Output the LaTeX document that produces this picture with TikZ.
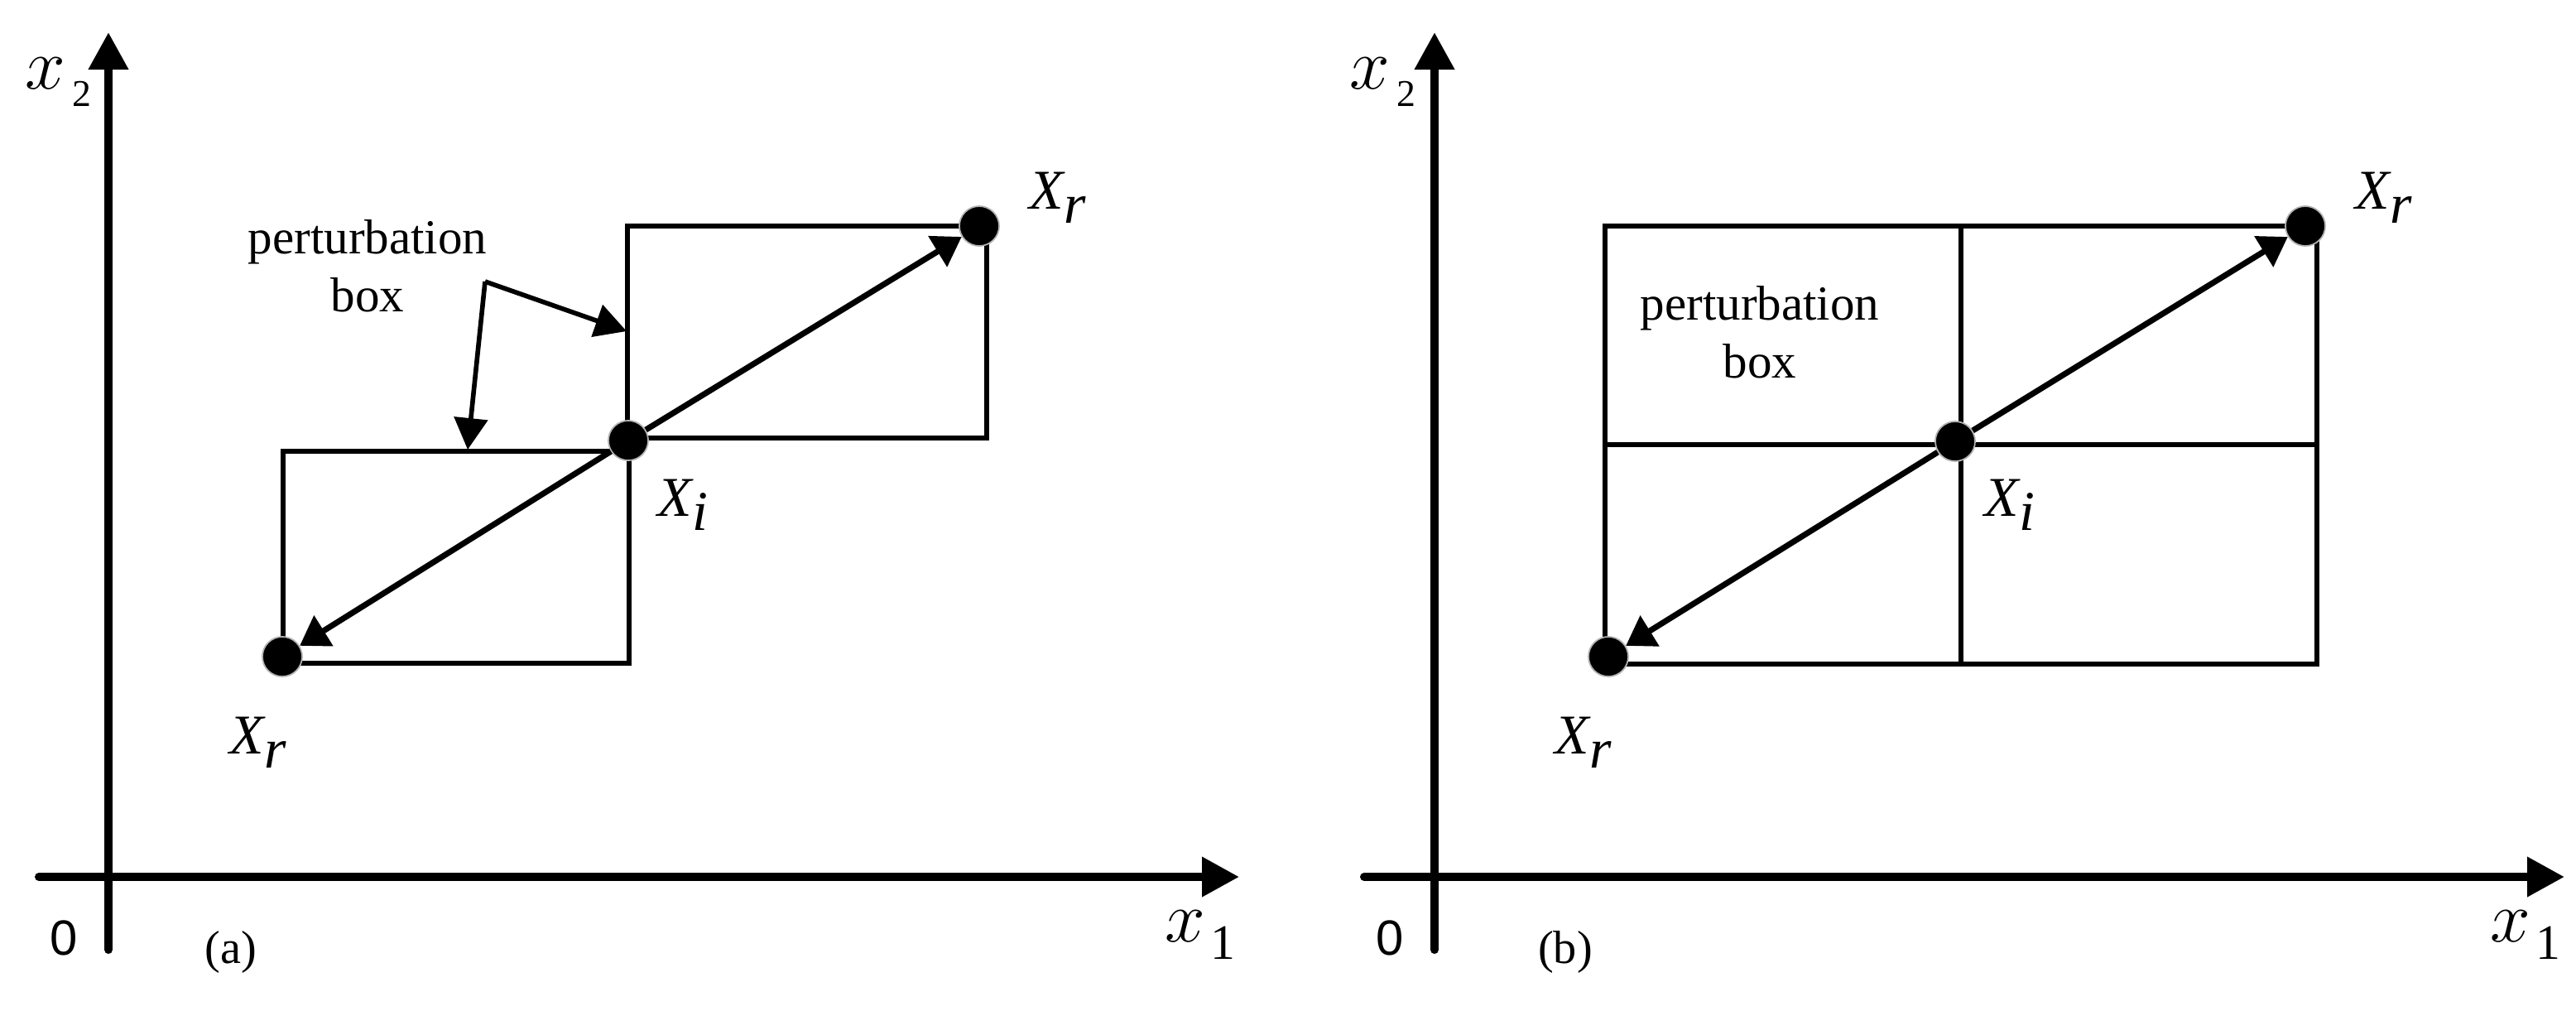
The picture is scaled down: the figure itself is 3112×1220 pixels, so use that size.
\documentclass[tikz,border=0pt]{standalone}
\usepackage{fontspec}
\setmainfont{Liberation Serif}[ItalicFont={Liberation Serif Italic}, BoldFont={Liberation Serif Bold}]
\setsansfont{Liberation Sans}
\newfontfamily\itserif{Liberation Serif Italic}
\usetikzlibrary{arrows.meta}
\newcommand{\Xsub}[1]{{\itserif X}\raisebox{-5pt}{\itserif #1}}

\begin{document}
\begin{tikzpicture}[
    x=0.01cm, y=-0.01cm,
    axis/.style={-{Triangle[length=12.8pt, width=13.1pt]}, line width=2.85pt, line cap=round},
    pbox/.style={line width=1.5pt},
    vec/.style={-{Triangle[length=9.7pt, width=12pt]}, line width=2pt},
    pointer/.style={-{Triangle[length=10.8pt, width=11.4pt]}, line width=1.6pt},
    dot/.style={circle, fill=black, draw=black!30, line width=0.5pt, minimum size=0.48cm, inner sep=0pt},
    lab/.style={font=\fontsize{19.3}{22}\selectfont, inner sep=0pt, anchor=base west},
    axlab/.style={font=\fontsize{24}{26}\selectfont, inner sep=0pt, anchor=base west},
    word/.style={font=\fontsize{16.8}{19.9}\selectfont, align=center, inner sep=0pt, anchor=north}
]
\useasboundingbox (0,0) rectangle (3112,1220);

% (a) axes
\draw[axis] (131,1147) -- (131,39);
\draw[axis] (47,1059) -- (1497,1059);
\node[axlab] (ya) at (30,107) {$x$\hspace{2.3pt}\raisebox{-6pt}{\fontsize{13}{13}\selectfont 2}};
\node[axlab] (xa) at (1407,1137) {$x$\hspace{1.6pt}\raisebox{-6pt}{\fontsize{17}{17}\selectfont 1}};
\node[font=\sffamily\fontsize{17}{17}\selectfont, inner sep=0pt, anchor=base] (oa) at (77,1153) {0};
\node[font=\fontsize{16}{18}\selectfont, inner sep=0pt, anchor=base] (capa) at (279,1163) {(a)};

% (a) perturbation boxes
\draw[pbox] (758,273) rectangle (1192,529);
\draw[pbox] (342,545) rectangle (760,801);

\node[dot] (xia) at (759,532) {};
\node[dot] (xra1) at (1183,273) {};
\node[dot] (xra2) at (341,793) {};
\draw[vec] (xia) -- (xra1);
\draw[vec] (xia) -- (xra2);

\node[lab] (lxia) at (794,623) {\Xsub{i}};
\node[lab] (lxra1) at (1243,252) {\Xsub{r}};
\node[lab] (lxra2) at (277,910) {\Xsub{r}};

\node[word] (pba) at (444,265) {perturbation\\box};
\coordinate (pa) at (586,340);
\coordinate (pu) at (757,400);
\coordinate (pl) at (565,543);
\draw[pointer] (pa) -- (pu);
\draw[pointer] (pa) -- (pl);

% (b) axes
\draw[axis] (1733,1147) -- (1733,39);
\draw[axis] (1648,1059) -- (3098,1059);
\node[axlab] (yb) at (1630,107) {$x$\hspace{2.3pt}\raisebox{-6pt}{\fontsize{13}{13}\selectfont 2}};
\node[axlab] (xb) at (3008,1137) {$x$\hspace{1.6pt}\raisebox{-6pt}{\fontsize{17}{17}\selectfont 1}};
\node[font=\sffamily\fontsize{17}{17}\selectfont, inner sep=0pt, anchor=base] (ob) at (1679,1153) {0};
\node[font=\fontsize{16}{18}\selectfont, inner sep=0pt, anchor=base] (capb) at (1891,1163) {(b)};

% (b) perturbation grid
\draw[pbox] (1939,273) rectangle (2799,802);
\draw[pbox] (2369,273) -- (2369,802);
\draw[pbox] (1939,537) -- (2799,537);

\node[dot] (xib) at (2362,533) {};
\node[dot] (xrb1) at (2785,273) {};
\node[dot] (xrb2) at (1943,793) {};
\draw[vec] (xib) -- (xrb1);
\draw[vec] (xib) -- (xrb2);

\node[lab] (lxib) at (2397,623) {\Xsub{i}};
\node[lab] (lxrb1) at (2845,252) {\Xsub{r}};
\node[lab] (lxrb2) at (1878,910) {\Xsub{r}};

\node[word] (pbb) at (2126,345) {perturbation\\box};

\end{tikzpicture}
\end{document}
